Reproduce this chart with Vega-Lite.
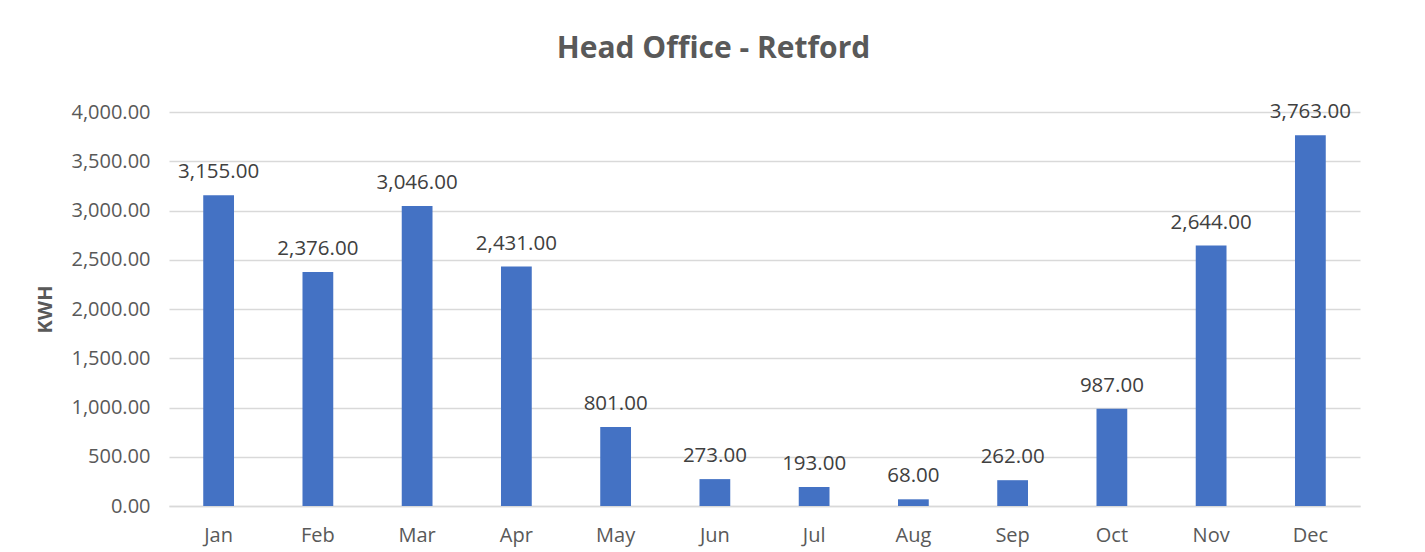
{
  "$schema": "https://vega.github.io/schema/vega-lite/v6.json",
  "width": 1191,
  "height": 394,
  "autosize": {"type": "none"},
  "padding": {"left": 169, "top": 112, "right": 65, "bottom": 46},
  "background": "white",
  "title": {
    "text": "Head Office - Retford",
    "font": "Open Sans",
    "fontSize": 30,
    "fontWeight": "bold",
    "color": "#595959",
    "anchor": "middle",
    "dx": -51,
    "offset": 38
  },
  "data": {
    "values": [
      {"month": "Jan", "kwh": 3155},
      {"month": "Feb", "kwh": 2376},
      {"month": "Mar", "kwh": 3046},
      {"month": "Apr", "kwh": 2431},
      {"month": "May", "kwh": 801},
      {"month": "Jun", "kwh": 273},
      {"month": "Jul", "kwh": 193},
      {"month": "Aug", "kwh": 68},
      {"month": "Sep", "kwh": 262},
      {"month": "Oct", "kwh": 987},
      {"month": "Nov", "kwh": 2644},
      {"month": "Dec", "kwh": 3763}
    ]
  },
  "encoding": {
    "x": {
      "field": "month",
      "type": "nominal",
      "sort": null,
      "scale": {"paddingInner": 0.69, "paddingOuter": 0.345},
      "axis": {
        "title": null,
        "labelAngle": 0,
        "labelFont": "Open Sans",
        "labelFontSize": 20,
        "labelColor": "#595959",
        "labelPadding": 19,
        "ticks": false,
        "domainColor": "#d9d9d9",
        "domainWidth": 1.5,
        "grid": false
      }
    },
    "y": {
      "field": "kwh",
      "type": "quantitative",
      "scale": {"domain": [0, 4000], "nice": false},
      "axis": {
        "title": "KWH",
        "titleFont": "Open Sans",
        "titleFontSize": 20,
        "titleFontWeight": "bold",
        "titleColor": "#595959",
        "titlePadding": 15,
        "values": [0, 500, 1000, 1500, 2000, 2500, 3000, 3500, 4000],
        "format": ",.2f",
        "labelFont": "Open Sans",
        "labelFontSize": 20,
        "labelColor": "#595959",
        "labelPadding": 19,
        "ticks": false,
        "domain": false,
        "gridColor": "#d9d9d9",
        "gridWidth": 1.5
      }
    }
  },
  "layer": [
    {"mark": {"type": "bar", "color": "#4472c4"}},
    {
      "mark": {
        "type": "text",
        "font": "Open Sans",
        "fontSize": 20.5,
        "color": "#404040",
        "baseline": "alphabetic",
        "dy": -17
      },
      "encoding": {
        "text": {"field": "kwh", "type": "quantitative", "format": ",.2f"}
      }
    }
  ],
  "config": {"view": {"stroke": null}}
}
